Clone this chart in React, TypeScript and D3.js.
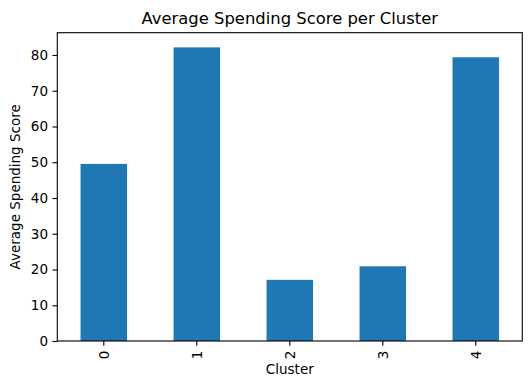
import { useRef, useEffect } from 'react';
import * as d3 from 'd3';

const clusters = ['0', '1', '2', '3', '4'];
const avgSpending = [49.53, 82.13, 17.11, 20.91, 79.36];
const yTickValues = [0, 10, 20, 30, 40, 50, 60, 70, 80];

export default function App() {
  const svgRef = useRef<SVGSVGElement>(null);

  useEffect(() => {
    const svg = svgRef.current;
    if (!svg) return;

    const width = 531;
    const height = 388;
    const margin = { top: 32.7, right: 8.7, bottom: 47, left: 57.3 };
    const innerW = width - margin.left - margin.right;
    const innerH = height - margin.top - margin.bottom;
    const font = '"DejaVu Sans", sans-serif';

    const svgSel = d3.select(svg);
    svgSel.selectAll('*').remove();

    const g = svgSel
      .append('g')
      .attr('transform', `translate(${margin.left},${margin.top})`);

    const x = d3.scaleBand<string>().domain(clusters).range([0, innerW]).paddingInner(0.5).paddingOuter(0.25);
    const yMax = d3.max(avgSpending) ?? 1;
    const y = d3.scaleLinear().domain([0, yMax * 1.05]).range([innerH, 0]);

    // Bars
    g.selectAll('.bar')
      .data(avgSpending)
      .join('rect')
      .attr('class', 'bar')
      .attr('x', (_, i) => x(clusters[i]) ?? 0)
      .attr('width', x.bandwidth())
      .attr('y', (d) => y(d))
      .attr('height', (d) => innerH - y(d))
      .attr('fill', '#1f77b4');

    // Y axis
    g.append('g')
      .call(d3.axisLeft(y).tickValues(yTickValues).tickSize(4.8).tickPadding(4.5).tickFormat((d) => `${d}`))
      .call((sel) => {
        sel.select('.domain').remove();
        sel.selectAll('.tick line').attr('stroke', '#000').attr('stroke-width', 1.1);
        sel
          .selectAll('.tick text')
          .attr('fill', '#000')
          .attr('font-size', '13.5px')
          .attr('font-family', font);
      });

    // X axis
    g.append('g')
      .attr('transform', `translate(0,${innerH})`)
      .call(d3.axisBottom(x).tickSize(4.8).tickPadding(0))
      .call((sel) => {
        sel.select('.domain').remove();
        sel.selectAll('.tick line').attr('stroke', '#000').attr('stroke-width', 1.1);
        sel
          .selectAll('.tick text')
          .attr('fill', '#000')
          .attr('font-size', '13.5px')
          .attr('font-family', font)
          .attr('transform', 'translate(0,9.6) rotate(-90)')
          .attr('x', 0)
          .attr('y', 0)
          .attr('dy', '0.35em')
          .attr('text-anchor', 'end');
      });

    // Frame
    g.append('rect')
      .attr('x', 0)
      .attr('y', 0)
      .attr('width', innerW)
      .attr('height', innerH)
      .attr('fill', 'none')
      .attr('stroke', '#000')
      .attr('stroke-width', 1.1);

    // Title
    svgSel
      .append('text')
      .attr('x', margin.left + innerW / 2)
      .attr('y', 24)
      .attr('text-anchor', 'middle')
      .attr('font-family', font)
      .attr('font-size', '16.4px')
      .attr('fill', '#000')
      .text('Average Spending Score per Cluster');

    // Axis labels
    svgSel
      .append('text')
      .attr('x', margin.left + innerW / 2)
      .attr('y', 374)
      .attr('text-anchor', 'middle')
      .attr('font-family', font)
      .attr('font-size', '13.5px')
      .attr('fill', '#000')
      .text('Cluster');

    svgSel
      .append('text')
      .attr('transform', `translate(20,${margin.top + innerH / 2}) rotate(-90)`)
      .attr('text-anchor', 'middle')
      .attr('font-family', font)
      .attr('font-size', '13.5px')
      .attr('fill', '#000')
      .text('Average Spending Score');
  }, []);

  return (
    <svg
      ref={svgRef}
      width={531}
      height={388}
      style={{ position: 'absolute', left: 0, top: 0, background: '#fff', display: 'block' }}
    />
  );
}
